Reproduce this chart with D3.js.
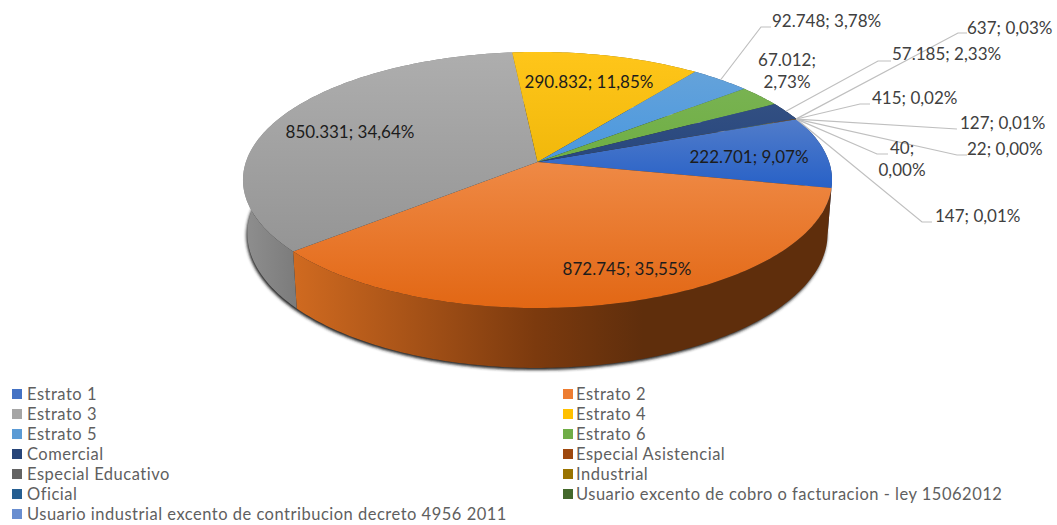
<!DOCTYPE html>
<html>
<head>
<meta charset="utf-8">
<title>Usuarios por estrato</title>
<style>
    html, body { margin: 0; background: #fff; }
    svg { display: block; }
    text { font-family: Lato, sans-serif; }
</style>
</head>
<body>
<svg width="1057" height="525"></svg>
<script src="https://d3js.org/d3.v7.min.js"></script>
<script>

    const categories = ["Estrato 1", "Estrato 2", "Estrato 3", "Estrato 4", "Estrato 5", "Estrato 6",
        "Comercial", "Especial Asistencial", "Especial Educativo", "Industrial", "Oficial",
        "Usuario excento de cobro o facturacion - ley 15062012",
        "Usuario industrial excento de contribucion decreto 4956 2011"];
    const values = [222701, 872745, 850331, 290832, 92748, 67012, 57185, 637, 415, 127, 22, 40, 147];
    const colors = ["#4472c4", "#ed7d31", "#a5a5a5", "#ffc000", "#5b9bd5", "#70ad47",
        "#264478", "#9e480e", "#636363", "#997300", "#255e91", "#43682b", "#698ed0"];

    // hand placed label spots: [x, y, anchor, elbow, end of leader]
    const labelSpots = [
        { x: 749, y: 157, anchor: "middle" },
        { x: 627, y: 269, anchor: "middle" },
        { x: 350, y: 132, anchor: "middle" },
        { x: 589, y: 82, anchor: "middle" },
        { x: 772, y: 21, anchor: "start", elbow: [761, 27], end: [771, 27] },
        { x: 787, y: 60, anchor: "middle", wrap: true },
        { x: 892, y: 54, anchor: "start", elbow: [878, 61], end: [891, 61] },
        { x: 967, y: 28, anchor: "start", elbow: [958, 33], end: [967, 33] },
        { x: 872, y: 98, anchor: "start", elbow: [860, 104], end: [870, 104] },
        { x: 960, y: 123, anchor: "start", elbow: [957, 129], end: [957, 129] },
        { x: 967, y: 149, anchor: "start", elbow: [957, 155], end: [967, 155] },
        { x: 902, y: 148, anchor: "middle", wrap: true, elbow: [877, 154], end: [888, 154] },
        { x: 935, y: 216, anchor: "start", elbow: [922, 222], end: [932, 222] }
    ];

    const svg = d3.select("svg");
    const defs = svg.append("defs");

    // pie lies flat and is seen in perspective, apex sits above the middle of the ellipse
    const apexX = 537.5, apexY = 162;
    const radiusX = 291.6, radiusY = 125.5, tilt = 0.1406;
    const firstAngle = 69 * Math.PI / 180;

    function project(angle, r, isBottom) {
        const x = Math.sin(angle) * r;
        const y = -Math.cos(angle) * r;
        const w = 1 - tilt * y;
        const u = radiusX * x / w;
        const v = radiusY * y / w;
        if (isBottom) return [apexX + u * 0.985, apexY + v * 1.05 + 52.6];
        return [apexX + u, apexY + v];
    }

    const pie = d3.pie().sort(null)
        .startAngle(firstAngle)
        .endAngle(firstAngle + 2 * Math.PI);
    const arcs = pie(values);

    const line = d3.line();
    const color = d3.scaleOrdinal(categories, colors);

    function rimAngles(d) {
        const n = Math.max(2, Math.ceil((d.endAngle - d.startAngle) * 60));
        return d3.range(n + 1).map(i => d.startAngle + (d.endAngle - d.startAngle) * i / n);
    }

    function topPath(d) {
        return line([[apexX, apexY]].concat(rimAngles(d).map(a => project(a, 1, false)))) + "Z";
    }

    function wallPath(d) {
        const a = rimAngles(d);
        return line(a.map(t => project(t, 1, false))
            .concat(a.slice().reverse().map(t => project(t, 1, true)))) + "Z";
    }

    function bottomPath(d) {
        return line(rimAngles(d).map(a => project(a, 1, true))) + "Z";
    }

    // gradients, tops go light to dark downwards, walls go dark towards the right
    arcs.forEach((d, i) => {
        const c = d3.color(colors[i]);
        const low = d3.hsl(c);
        // orange is already strong, only darken it
        low.s = i === 1 ? low.s : Math.min(1, low.s * 1.3);
        low.l = low.l * (i === 1 ? 0.86 : 0.9);
        const top = defs.append("linearGradient")
            .attr("id", "top-" + i)
            .attr("gradientUnits", "userSpaceOnUse")
            .attr("x1", 0).attr("x2", 0)
            .attr("y1", i === 1 ? 160 : (i === 0 ? 110 : 50))
            .attr("y2", i === 1 ? 308 : (i === 0 ? 190 : 250));
        top.append("stop").attr("offset", 0).attr("stop-color", d3.interpolateRgb(c, "#fff")(0.1));
        top.append("stop").attr("offset", 1).attr("stop-color", low.formatHex());
    });

    const wall = defs.append("linearGradient")
        .attr("id", "wall-1")
        .attr("gradientUnits", "userSpaceOnUse")
        .attr("x1", 294).attr("x2", 830).attr("y1", 0).attr("y2", 0);
    wall.append("stop").attr("offset", 0).attr("stop-color", "#d06a20");
    wall.append("stop").attr("offset", 0.45).attr("stop-color", "#7c3a0e");
    wall.append("stop").attr("offset", 0.65).attr("stop-color", "#5f2e0c");
    wall.append("stop").attr("offset", 1).attr("stop-color", "#5f2e0c");

    const wallGrey = defs.append("linearGradient")
        .attr("id", "wall-2")
        .attr("gradientUnits", "userSpaceOnUse")
        .attr("x1", 243).attr("x2", 300).attr("y1", 0).attr("y2", 0);
    wallGrey.append("stop").attr("offset", 0).attr("stop-color", "#8f8f8f");
    wallGrey.append("stop").attr("offset", 1).attr("stop-color", "#7a7a7a");

    defs.append("filter").attr("id", "shadow")
        .attr("x", "-5%").attr("y", "-5%").attr("width", "110%").attr("height", "110%")
        .append("feGaussianBlur").attr("stdDeviation", 1.8);

    // soft shadow under the bottom of the disc only
    const fullDisc = { startAngle: 0, endAngle: 2 * Math.PI };
    svg.append("path")
        .attr("d", bottomPath(fullDisc))
        .attr("transform", "translate(-1,2)")
        .attr("fill", "#222")
        .attr("filter", "url(#shadow)");

    svg.append("g").selectAll("path")
        .data(arcs)
        .enter().append("path")
            .attr("d", wallPath)
            .attr("fill", (d, i) => i === 1 || i === 2 ? "url(#wall-" + i + ")"
                : d3.interpolateRgb(colors[i], "#000")(0.45));

    svg.append("g").selectAll("path")
        .data(arcs)
        .enter().append("path")
            .attr("d", topPath)
            .attr("fill", (d, i) => "url(#top-" + i + ")");

    // leader lines go from the rim of the slice to the hand placed elbow
    svg.append("g").selectAll("path")
        .data(arcs.filter((d, i) => labelSpots[i].elbow))
        .enter().append("path")
            .attr("d", d => {
                const s = labelSpots[d.index];
                return line([project((d.startAngle + d.endAngle) / 2, 1, false), s.elbow, s.end]);
            })
            .attr("fill", "none")
            .attr("stroke", "#bfbfbf")
            .attr("stroke-width", 1.2);

    const es = d3.formatLocale({ decimal: ",", thousands: ".", grouping: [3], currency: ["", ""] });
    const fmtValue = es.format(",d");
    const fmtPct = es.format(".2%");
    const total = d3.sum(values);

    const labels = svg.append("g").selectAll("text")
        .data(arcs)
        .enter().append("text")
            .attr("x", (d, i) => labelSpots[i].x)
            .attr("y", (d, i) => labelSpots[i].y)
            .attr("dy", "0.35em")
            .attr("text-anchor", (d, i) => labelSpots[i].anchor)
            .attr("font-size", 17)
            .attr("fill", (d, i) => i < 4 ? "#1c1c1c" : "#404040");

    labels.each(function(d, i) {
        const a = fmtValue(d.value) + ";";
        const b = fmtPct(d.value / total);
        const t = d3.select(this);
        if (labelSpots[i].wrap) {
            t.append("tspan").text(a);
            t.append("tspan").attr("x", labelSpots[i].x).attr("dy", "22").text(b);
        } else {
            t.text(a + " " + b);
        }
    });

    // legend, two columns filled row by row
    const legendCol = d3.scalePoint().domain([0, 1]).range([12, 563]);
    const legendRow = d3.scaleLinear().domain([0, 6]).range([394, 514]);

    const legend = svg.append("g").selectAll("g")
        .data(categories)
        .enter().append("g")
            .attr("transform", (d, i) => "translate(" + legendCol(i % 2) + "," + legendRow(Math.floor(i / 2)) + ")");

    legend.append("rect")
        .attr("y", -5)
        .attr("width", 10)
        .attr("height", 10)
        .attr("fill", d => color(d));

    legend.append("text")
        .attr("x", (d, i) => i % 2 ? 13 : 15)
        .attr("dy", "0.35em")
        .attr("font-size", 16.5)
        .attr("letter-spacing", 0.5)
        .attr("fill", "#5f5f5f")
        .text(d => d);

</script>
</body>
</html>
